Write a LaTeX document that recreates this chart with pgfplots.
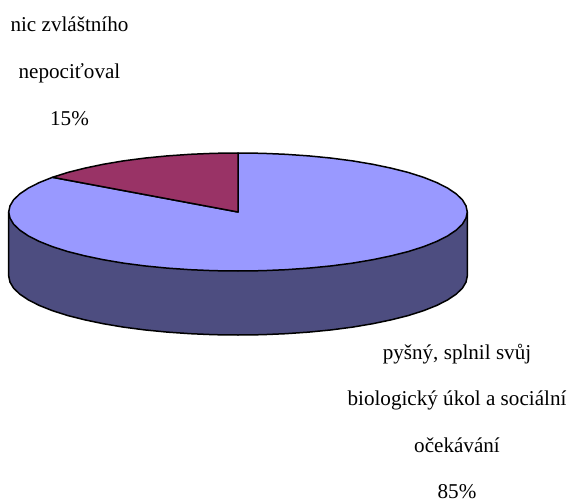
\documentclass[border=0pt]{standalone}
\usepackage{fontspec}
\setmainfont{Liberation Serif}
\usepackage{pgfplots}
\pgfplotsset{compat=1.18}
\definecolor{bluetop}{HTML}{9999FF}
\definecolor{bluewall}{HTML}{4D4D80}
\definecolor{redtop}{HTML}{993366}
\tikzset{lab/.style={anchor=base, font=\fontsize{21.2}{21.2}\selectfont, inner sep=0pt, text=black}}
\begin{document}
\begin{tikzpicture}
\useasboundingbox (0,0) rectangle (570bp,502bp);
\begin{axis}[
  at={(0,0)}, anchor=south west,
  scale only axis, width=570bp, height=502bp,
  xmin=0, xmax=570, ymin=0, ymax=502, y dir=reverse,
  hide axis, clip=false,
  every axis plot/.append style={line width=1.5bp, line join=round},
]
% side wall of the larger slice
\addplot[fill=bluewall, draw=black] coordinates {
 (8.7,212) (8.7,276) (10,282.2) (13.7,288.3) (19.9,294.2) (28.5,300) (39.4,305.5) (52.5,310.7) (67.6,315.5) (84.6,319.8) (103.2,323.7) (123.3,327.1) (144.7,329.9) (167.1,332.1) (190.3,333.7) (214,334.7) (238,335)
 (262,334.7) (285.7,333.7) (308.9,332.1) (331.3,329.9) (352.7,327.1) (372.8,323.7) (391.4,319.8) (408.4,315.5) (423.5,310.7) (436.6,305.5) (447.5,300) (456.1,294.2) (462.3,288.3) (466,282.2) (467.3,276) (467.3,212)
} -- cycle;
% 85 % slice, top
\addplot[fill=bluetop, draw=black] coordinates {
 (238,212) (238,153) (262.0,153.3) (285.7,154.3) (308.9,155.9) (331.3,158.1) (352.7,160.9) (372.8,164.3) (391.4,168.2) (408.4,172.5) (423.5,177.3) (436.6,182.5) (447.5,188.0) (456.1,193.8) (462.3,199.7) (466.0,205.8) (467.3,212)
 (466.0,218.2) (462.3,224.3) (456.1,230.2) (447.5,236.0) (436.6,241.5) (423.5,246.7) (408.4,251.5) (391.4,255.8) (372.8,259.7) (352.7,263.1) (331.3,265.9) (308.9,268.1) (285.7,269.7) (262.0,270.7) (238,271)
 (214.0,270.7) (190.3,269.7) (167.1,268.1) (144.7,265.9) (123.3,263.1) (103.2,259.7) (84.6,255.8) (67.6,251.5) (52.5,246.7) (39.4,241.5) (28.5,236.0) (19.9,230.2) (13.7,224.3) (10.0,218.2) (8.7,212)
 (10.0,205.8) (13.7,199.7) (19.9,193.8) (28.5,188.0) (39.4,182.5) (52.5,177.3)
} -- cycle;
% 15 % slice, top
\addplot[fill=redtop, draw=black] coordinates {
 (238,212) (52.5,177.3) (67.6,172.5) (84.6,168.2) (103.2,164.3) (123.3,160.9) (144.7,158.1) (167.1,155.9) (190.3,154.3) (214.0,153.3) (238,153)
} -- cycle;
\node[lab] at (axis cs:69.5,32) {nic zvláštního};
\node[lab] at (axis cs:69.5,78.5) {nepociťoval};
\node[lab] at (axis cs:69.5,125) {15\%};
\node[lab] at (axis cs:457,359.5) {pyšný, splnil svůj};
\node[lab] at (axis cs:457,405.5) {biologický úkol a sociální};
\node[lab] at (axis cs:457,452) {očekávání};
\node[lab] at (axis cs:457,498) {85\%};
\end{axis}
\end{tikzpicture}
\end{document}
